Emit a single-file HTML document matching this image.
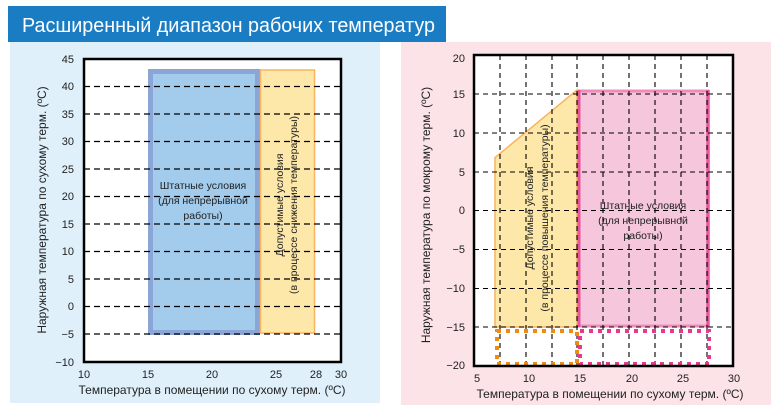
<!DOCTYPE html>
<html><head><meta charset="utf-8"><style>
body{margin:0;background:#fff}
svg{display:block;font-family:"Liberation Sans","DejaVu Sans",sans-serif}
</style></head><body>
<svg width="775" height="409" viewBox="0 0 775 409" xmlns="http://www.w3.org/2000/svg">
<rect x="0" y="0" width="775" height="409" fill="#fff"/>
<rect x="10" y="42" width="370" height="361" fill="#dff0fa"/>
<rect x="401" y="42" width="370" height="363" fill="#fbe3e7"/>
<rect x="8" y="6" width="438" height="36" fill="#1a7dc4"/>
<text x="22" y="32" font-size="20" fill="#fff" textLength="413" lengthAdjust="spacingAndGlyphs">Расширенный диапазон рабочих температур</text>

<!-- LEFT -->
<rect x="84" y="59" width="257" height="303" fill="#fff"/>
<rect x="150.5" y="71.5" width="107" height="261" fill="#a2cbec" stroke="#8aa5d6" stroke-width="5"/>
<rect x="260.5" y="70" width="54" height="263" fill="#fde8a9" stroke="#f9b45e" stroke-width="1.5"/>
<g stroke="#000" stroke-width="1.2" stroke-dasharray="6 4">
<line x1="84" x2="341" y1="86.5" y2="86.5"/><line x1="84" x2="341" y1="114" y2="114"/>
<line x1="84" x2="341" y1="141.5" y2="141.5"/><line x1="84" x2="341" y1="169" y2="169"/>
<line x1="84" x2="341" y1="196.5" y2="196.5"/><line x1="84" x2="341" y1="224" y2="224"/>
<line x1="84" x2="341" y1="251.5" y2="251.5"/><line x1="84" x2="341" y1="279" y2="279"/>
<line x1="84" x2="341" y1="306.5" y2="306.5"/><line x1="84" x2="341" y1="334" y2="334"/>
</g>
<rect x="84" y="59" width="257" height="303" fill="none" stroke="#000" stroke-width="2.5"/>
<g font-size="11" fill="#222" text-anchor="end">
<text x="74" y="63">45</text><text x="74" y="90">40</text><text x="74" y="118">35</text>
<text x="74" y="145">30</text><text x="74" y="173">25</text><text x="74" y="200">20</text>
<text x="74" y="228">15</text><text x="74" y="255">10</text><text x="74" y="283">5</text>
<text x="74" y="310">0</text><text x="74" y="338">−5</text><text x="74" y="366">−10</text>
</g>
<g font-size="11" fill="#222" text-anchor="middle">
<text x="84" y="378">10</text><text x="148" y="378">15</text><text x="212" y="378">20</text>
<text x="276" y="378">25</text><text x="316" y="378">28</text><text x="341" y="378">30</text>
</g>
<text x="212" y="394" font-size="12" fill="#222" text-anchor="middle">Температура в помещении по сухому терм. (ºC)</text>
<text transform="translate(46,210) rotate(-90)" font-size="12" fill="#222" text-anchor="middle">Наружная температура по сухому терм. (ºC)</text>
<g font-size="10.5" fill="#222" text-anchor="middle">
<text x="203" y="189">Штатные условия</text><text x="203" y="204">(для непрерывной</text><text x="203" y="219">работы)</text>
</g>
<g font-size="10.5" fill="#222" text-anchor="middle">
<text transform="translate(283,205) rotate(-90)">Допустимые условия</text>
<text transform="translate(297,205) rotate(-90)">(в процессе снижения температуры)</text>
</g>

<!-- RIGHT -->
<rect x="474" y="55" width="259" height="311" fill="#fff"/>
<polygon points="495,157.6 577,90 577,327 495,327" fill="#fde8a9" stroke="#f9b45e" stroke-width="1.5"/>
<rect x="578" y="90" width="131" height="237" fill="#f5c6dc"/>
<line x1="578" y1="91" x2="709" y2="91" stroke="#f08cbb" stroke-width="3"/>
<line x1="578" y1="326" x2="709" y2="326" stroke="#f08cbb" stroke-width="3"/>
<line x1="579" y1="90" x2="579" y2="327" stroke="#e9559c" stroke-width="3"/>
<line x1="708" y1="90" x2="708" y2="327" stroke="#e9559c" stroke-width="3.5"/>
<g stroke="#000" stroke-width="1.1" stroke-dasharray="5 4">
<line x1="500" x2="500" y1="55" y2="366"/><line x1="526" x2="526" y1="55" y2="366"/>
<line x1="552" x2="552" y1="55" y2="366"/><line x1="577" x2="577" y1="55" y2="366"/>
<line x1="603" x2="603" y1="55" y2="366"/><line x1="629" x2="629" y1="55" y2="366"/>
<line x1="655" x2="655" y1="55" y2="366"/><line x1="681" x2="681" y1="55" y2="366"/>
<line x1="707" x2="707" y1="55" y2="366"/>
<line x1="474" x2="733" y1="94" y2="94"/><line x1="474" x2="733" y1="133" y2="133"/>
<line x1="474" x2="733" y1="172" y2="172"/><line x1="474" x2="733" y1="210.5" y2="210.5"/>
<line x1="474" x2="733" y1="249.5" y2="249.5"/><line x1="474" x2="733" y1="288.5" y2="288.5"/>
<line x1="474" x2="733" y1="327" y2="327"/>
</g>
<rect x="497" y="331" width="80" height="33" fill="none" stroke="#f08a10" stroke-width="4" stroke-dasharray="4 5"/>
<rect x="580" y="331" width="129" height="33" fill="none" stroke="#e8388f" stroke-width="4" stroke-dasharray="4 5"/>
<rect x="474" y="55" width="259" height="311" fill="none" stroke="#000" stroke-width="2.5"/>
<g font-size="11" fill="#222" text-anchor="end">
<text x="465" y="62">20</text><text x="465" y="98">15</text><text x="465" y="137">10</text>
<text x="465" y="176">5</text><text x="465" y="214">0</text><text x="465" y="253">−5</text>
<text x="465" y="292">−10</text><text x="465" y="331">−15</text><text x="465" y="369">−20</text>
</g>
<g font-size="11" fill="#222" text-anchor="middle">
<text x="477" y="382">5</text><text x="529" y="382">10</text><text x="580" y="382">15</text>
<text x="632" y="382">20</text><text x="683" y="382">25</text><text x="734" y="382">30</text>
</g>
<text x="610" y="398" font-size="12" fill="#222" text-anchor="middle">Температура в помещении по сухому терм. (ºC)</text>
<text transform="translate(430,215) rotate(-90)" font-size="12" fill="#222" text-anchor="middle">Наружная температура по мокрому терм. (ºC)</text>
<g font-size="10.5" fill="#222" text-anchor="middle">
<text x="643" y="209">Штатные условия</text><text x="643" y="224">(для непрерывной</text><text x="643" y="239">работы)</text>
</g>
<g font-size="10.5" fill="#222" text-anchor="middle">
<text transform="translate(533,218) rotate(-90)">Допустимые условия</text>
<text transform="translate(548,218) rotate(-90)">(в процессе повышения температуры)</text>
</g>
</svg>
</body></html>
